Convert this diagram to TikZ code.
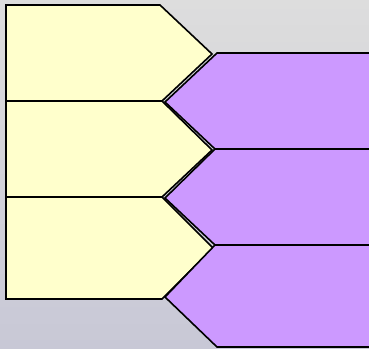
\documentclass[tikz,border=0pt]{standalone}
\usetikzlibrary{shadings}
\definecolor{paleyellow}{RGB}{255,255,204}
\definecolor{lilac}{RGB}{204,153,255}
\definecolor{bgtop}{RGB}{221,221,221}
\definecolor{bgbottom}{RGB}{200,200,214}
\tikzset{
  stepshape/.style={fill=paleyellow, draw=black, line width=1.6pt, line join=miter},
  tailshape/.style={fill=lilac, draw=black, line width=1.6pt, line join=miter},
}
\begin{document}
\begin{tikzpicture}[x=1pt,y=-1pt]
  \useasboundingbox (0,0) rectangle (369,348);
  \clip (0,0) rectangle (369,348);
  % background
  \shade[top color=bgtop, bottom color=bgbottom] (0,0) rectangle (369,348);
  % left column: pentagon arrows
  \draw[stepshape] (6,5) -- (160,5) -- (212,54) -- (162,101) -- (6,101) -- cycle;
  \draw[stepshape] (6,101) -- (162,101) -- (212,150) -- (162,197) -- (6,197) -- cycle;
  \draw[stepshape] (6,197) -- (162,197) -- (213,248) -- (162,299) -- (6,299) -- cycle;
  % right column: left-pointing arrows
  \draw[tailshape] (380,53) -- (217,53) -- (165,102) -- (215,149) -- (380,149);
  \draw[tailshape] (380,149) -- (215,149) -- (165,198) -- (215,245) -- (380,245);
  \draw[tailshape] (380,245) -- (215,245) -- (165,297) -- (217,347) -- (380,347);
\end{tikzpicture}
\end{document}
